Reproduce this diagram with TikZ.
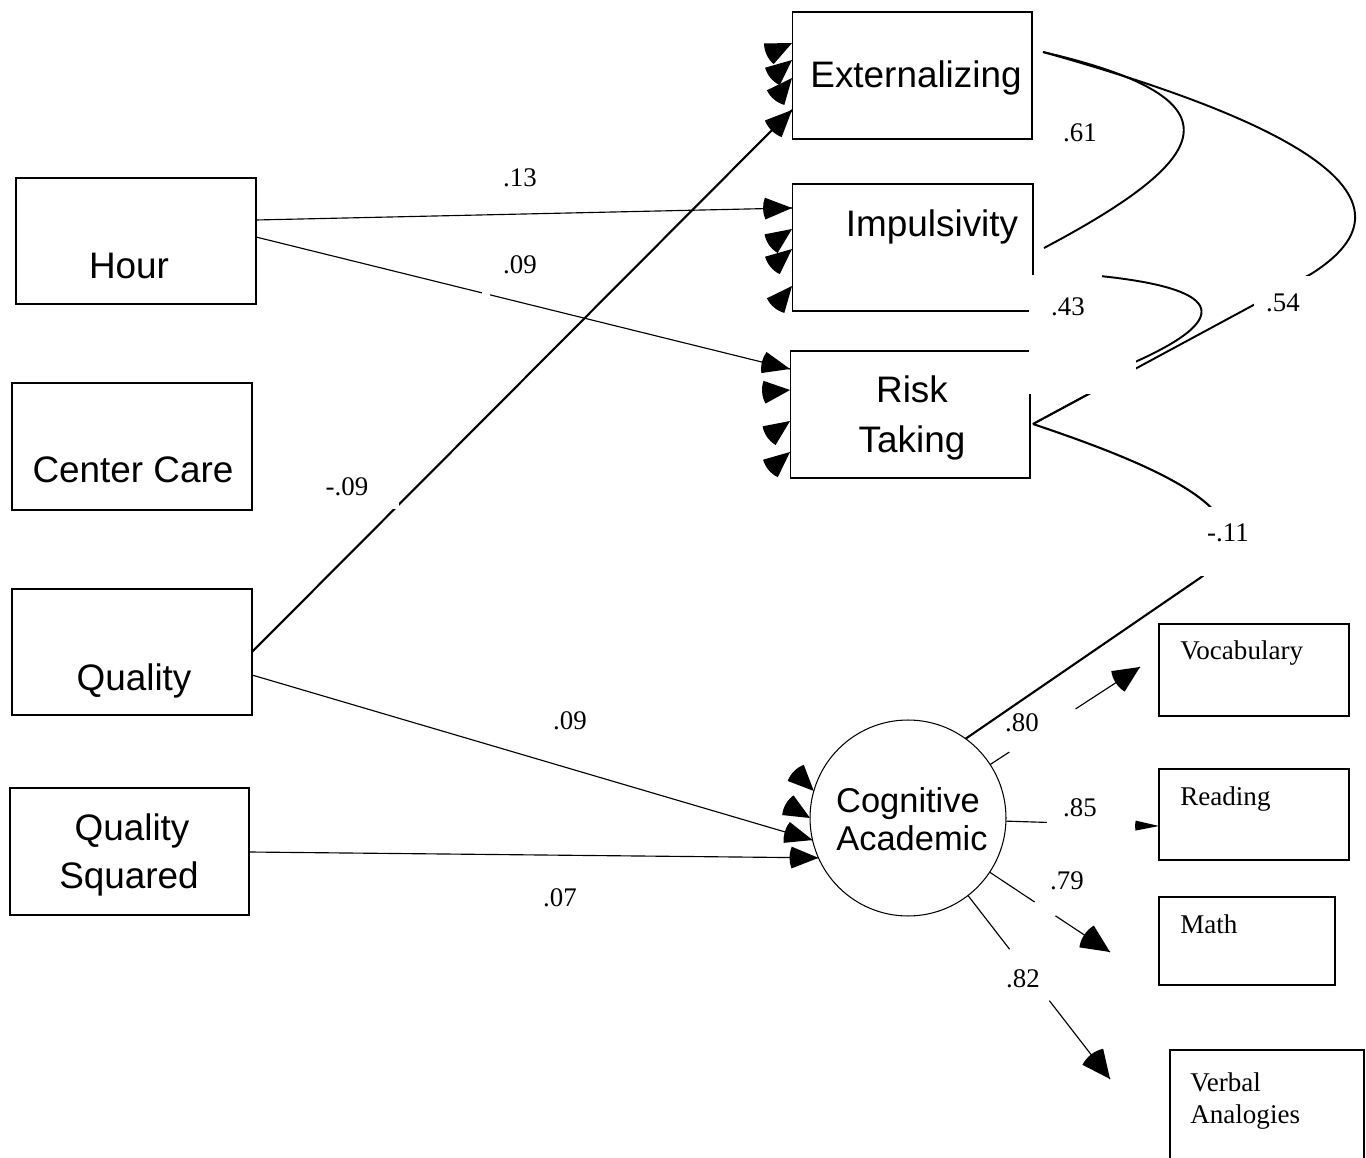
\documentclass[tikz,border=0pt]{standalone}
\usepackage{fontspec}
\setmainfont{Liberation Serif}
\newfontfamily\arialf{Liberation Sans}
\usetikzlibrary{calc}
% filled sector arrow head: #1 tip, #2 direction, #3 length, #4 half angle
\newcommand\sechead[4]{\fill #1 -- ++(#2+180-#4:#3) arc[start angle=#2+180-#4, end angle=#2+180+#4, radius=#3] -- cycle;}
\tikzset{
  box/.style={draw, line width=0.6pt, inner sep=0pt, outer sep=0pt},
  ibox/.style={draw, line width=1.1pt, inner sep=0pt, outer sep=0pt},
  big/.style={font=\arialf\fontsize{21}{25}\selectfont, inner sep=0pt, anchor=base},
  cogt/.style={font=\arialf\fontsize{19.6}{23}\selectfont, inner sep=0pt, anchor=base},
  lab/.style={font=\fontsize{15.3}{18}\selectfont, inner sep=0pt, anchor=base},
  ilab/.style={font=\fontsize{15.4}{18}\selectfont, inner sep=0pt, anchor=base west},
  thinl/.style={line width=0.65pt},
  thickl/.style={line width=1.2pt},
  curvel/.style={line width=1.1pt},
  maskr/.style={fill=white, draw=none},
}
\begin{document}
\begin{tikzpicture}[x=0.02cm, y=-0.02cm]
\useasboundingbox (0,0) rectangle (1366,1158);
\clip (0,0) rectangle (1366,1158);

% boxes
\node[box, minimum width=4.8cm, minimum height=2.52cm] (hour) at (136,241) {};
\node[box, minimum width=4.8cm, minimum height=2.54cm] (care) at (132,446.5) {};
\node[box, minimum width=4.8cm, minimum height=2.52cm] (quality) at (132,652) {};
\node[box, minimum width=4.78cm, minimum height=2.54cm] (qsq) at (129.5,851.5) {};
\node[box, minimum width=4.8cm, minimum height=2.54cm] (ext) at (912,75.5) {};
\node[box, minimum width=4.82cm, minimum height=2.54cm] (imp) at (912.5,247.5) {};
\node[box, minimum width=4.8cm, minimum height=2.54cm] (risk) at (910,414.5) {};
\node[draw, circle, line width=0.6pt, inner sep=0pt, outer sep=0pt, minimum size=3.92cm] (cog) at (908,818) {};
\node[ibox, minimum width=3.8cm, minimum height=1.84cm] (voc) at (1254,670) {};
\node[ibox, minimum width=3.8cm, minimum height=1.82cm] (read) at (1254,814.5) {};
\node[ibox, minimum width=3.52cm, minimum height=1.76cm] (math) at (1247,941) {};
\node[ibox, minimum width=3.88cm, minimum height=2.4cm] (verb) at (1267,1110) {};

% paths into the outcomes
\draw[thinl] (hour.east |- 0,220) -- (imp.west |- 0,208);
\draw[thinl] (hour.east |- 0,237) -- (risk.west |- 0,369);
\draw[thickl] (quality.east |- 0,652) -- (ext.west |- 0,110);
\draw[thinl] (quality.east |- 0,675) -- (cog.193);
\draw[thinl] (qsq.east |- 0,852) -- (cog.204);

% arrow heads on Externalizing
\sechead{(ext.west |- 0,43)}{-25}{28}{24}
\sechead{(ext.west |- 0,60)}{-40}{28}{24}
\sechead{(ext.west |- 0,78)}{-50}{28}{24}
\sechead{(ext.west |- 0,110)}{-45.1}{29}{24}
% Impulsivity
\sechead{(imp.west |- 0,208)}{-1.3}{29}{22}
\sechead{(imp.west |- 0,229)}{-35}{28}{24}
\sechead{(imp.west |- 0,249)}{-40}{28}{24}
\sechead{(imp.west |- 0,286)}{-50}{28}{24}
% Risk Taking
\sechead{(risk.west |- 0,369)}{13.9}{29}{22}
\sechead{(risk.west |- 0,390)}{-5}{28}{24}
\sechead{(risk.west |- 0,421)}{-35}{28}{24}
\sechead{(risk.west |- 0,452)}{-40}{28}{24}
% Cognitive Academic
\sechead{(cog.164.6)}{45}{28}{24}
\sechead{(cog.180)}{30}{28}{24}
\sechead{(cog.193)}{16.4}{29}{22}
\sechead{(cog.204)}{0.6}{29}{22}

% loadings
\coordinate (vtip) at (1140,667);
\coordinate (rtip) at (read.west |- 0,826);
\coordinate (mtip) at (1110,952);
\coordinate (vbtip) at (1110,1079);
\draw[thinl, dash pattern=on 0.46cm off 1.58cm on 6cm off 1cm] (cog) -- (vtip);
\sechead{(vtip)}{-33.06}{29}{25}
\draw[thinl, dash pattern=on 0.82cm off 6cm] (cog) -- (rtip);
\sechead{(rtip)}{1}{24}{12}
\draw[thinl, dash pattern=on 1.08cm off 0.5cm on 6cm off 1cm] (cog) -- (mtip);
\sechead{(mtip)}{33.56}{31}{25}
\draw[thinl, dash pattern=on 1.36cm off 1.3cm on 6cm off 1cm] (cog) -- (vbtip);
\sechead{(vbtip)}{52.26}{31}{25}

% correlations
\coordinate (e0) at ($(ext.north east)+(11,40)$);
\coordinate (i1) at ($(imp.north east)+(11,64)$);
\coordinate (i2) at ($(imp.south east)+(0,-20)$);
\coordinate (r0) at ($(risk.north east)+(3,73)$);
\draw[curvel] (e0) .. controls (1250,100) and (1210,160) .. (i1);
\draw[curvel] (e0) .. controls (1250,110) and (1445,190) .. (1311,274) -- (r0);
\draw[curvel] (i2) -- (1100,276) .. controls (1215,288) and (1240,315) .. (1135,362) -- (1098,389) -- (r0);
\draw[thickl] (r0) .. controls (1170,470) and (1280,520) .. (1200,578) -- (cog.54);

% white label backgrounds (gaps)
\fill[maskr] (1029,275) rectangle (1102,394);
\fill[maskr] (1096,360) rectangle (1136,394);
\fill[maskr] (1254,276) rectangle (1312,322);
\fill[maskr] (1185,507) rectangle (1262,576);
\fill[maskr] (482,289) rectangle (490,298);
\fill[maskr] (393,502) rectangle (399,509);

% texts
\node[big] (thour) at (129,279) {Hour};
\node[big] (tcare) at (133,483) {Center Care};
\node[big] (tqual) at (134,690) {Quality};
\node[big] (tqsq1) at (132,840) {Quality};
\node[big] (tqsq2) at (129,888) {Squared};
\node[big] (text) at (916,88) {Externalizing};
\node[big] (timp) at (932,237) {Impulsivity};
\node[big] (trisk1) at (912,403) {Risk};
\node[big] (trisk2) at (912,453) {Taking};
\node[cogt] (tcog1) at (908,812) {Cognitive};
\node[cogt] (tcog2) at (912,850) {Academic};
\node[ilab] (tvoc) at (1180,660) {Vocabulary};
\node[ilab] (tread) at (1180,805) {Reading};
\node[ilab] (tmath) at (1180,933) {Math};
\node[ilab] (tverb1) at (1190,1091) {Verbal};
\node[ilab] (tverb2) at (1190,1123) {Analogies};

% coefficients
\node[lab] (l13) at (520,187) {.13};
\node[lab] (l09a) at (520,274) {.09};
\node[lab] (l09n) at (347,496) {-.09};
\node[lab] (l61) at (1080,142) {.61};
\node[lab] (l43) at (1068,316) {.43};
\node[lab] (l54) at (1283,312) {.54};
\node[lab] (l11) at (1228,541) {-.11};
\node[lab] (l09b) at (570,729) {.09};
\node[lab] (l07) at (560,906) {.07};
\node[lab] (l80) at (1022,731) {.80};
\node[lab] (l85) at (1080,816) {.85};
\node[lab] (l79) at (1067,889) {.79};
\node[lab] (l82) at (1023,987) {.82};
\end{tikzpicture}
\end{document}
